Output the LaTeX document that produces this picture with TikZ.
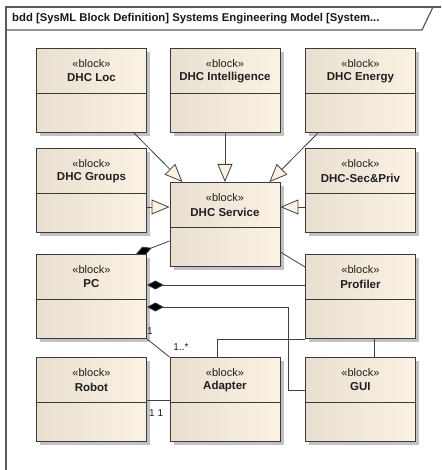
\documentclass[tikz,border=0pt]{standalone}
\usepackage{fontspec}
\setmainfont{Liberation Sans}
\usetikzlibrary{arrows.meta,calc,shadows}

\definecolor{boxleft}{RGB}{232,223,208}
\definecolor{boxright}{RGB}{252,242,227}
\definecolor{edge}{RGB}{58,58,58}
\definecolor{wire}{RGB}{64,64,64}
\definecolor{framegrey}{RGB}{90,90,90}

\tikzset{
  blockbody/.style={draw=edge, line width=0.9pt, left color=boxleft, right color=boxright,
    minimum width=110pt, minimum height=84pt, inner sep=0pt,
    general shadow={fill=black!24, shadow xshift=4pt, shadow yshift=-4pt}},
  blockline/.style={draw=edge, line width=0.9pt},
  stereo/.style={font=\fontsize{11}{12}\selectfont, inner sep=0pt, text=black!88},
  bname/.style={font=\fontsize{11.5}{13}\selectfont\bfseries, inner sep=0pt, text=black!88},
  mult/.style={font=\fontsize{10}{11}\selectfont, inner sep=0pt, text=black!88},
  wireline/.style={draw=wire, line width=0.8pt},
  gen/.style={wireline, -{Triangle[open, length=18pt, width=15pt, fill=boxright, line width=0.8pt]}},
  comp/.style={wireline, {Diamond[length=17pt, width=9pt, fill=black]}-},
  framebox/.style={draw=framegrey, line width=1.2pt},
}

\newcommand{\blockbox}[4]{%
  \node[blockbody, anchor=north west] (#1) at (#2,#3) {};
  \draw[blockline] ($(#1.north west)+(0,45)$) -- ($(#1.north east)+(0,45)$);
  \node[stereo] (#1-st) at ($(#1.north)+(0,16)$) {«block»};
  \node[bname] (#1-nm) at ($(#1.north)+(0,30)$) {#4};
}

\begin{document}
\begin{tikzpicture}[x=1pt, y=-1pt]
  \useasboundingbox[fill=white] (0,0) rectangle (441,470);

  % diagram frame and its name tab
  \coordinate (fr-tl) at (6,7);
  \draw[framebox] (6,470) -- (fr-tl) -- (441,7);
  \draw[framebox] (6,30) -- (422,30) -- (433,7);
  \node[anchor=west, inner sep=0pt, font=\fontsize{11.3}{13}\selectfont\bfseries, text=black!90] (frame-title)
    at (12,18.5) {bdd [SysML Block Definition] Systems Engineering Model [System...};

  % blocks
  \blockbox{loc}{36}{48}{DHC Loc}
  \blockbox{intel}{169.5}{48}{DHC Intelligence}
  \blockbox{energy}{305}{48}{DHC Energy}
  \blockbox{groups}{36}{148}{DHC Groups}
  \blockbox{secpriv}{305}{148}{DHC-Sec\&Priv}
  \blockbox{svc}{169.5}{182}{DHC Service}
  \blockbox{pc}{36}{254}{PC}
  \blockbox{prof}{305}{254}{Profiler}
  \blockbox{robot}{36}{357}{Robot}
  \blockbox{adapter}{169.5}{357}{Adapter}
  \blockbox{gui}{305}{357}{GUI}

  % generalizations into DHC Service
  \draw[gen] ($(loc.south east)+(-13,0)$) -- ($(svc.north west)+(13,0)$);
  \draw[gen] (intel.south) -- (svc.north);
  \draw[gen] ($(energy.south west)+(13,0)$) -- ($(svc.north east)+(-11,0)$);
  \draw[gen] ($(groups.north east)+(0,59)$) -- ($(svc.north west)+(0,25)$);
  \draw[gen] ($(secpriv.north west)+(0,59)$) -- ($(svc.north east)+(0,25)$);

  % compositions owned by PC
  \draw[comp] ($(pc.north east)+(-11,0)$) -- ($(svc.north west)+(0,59)$);
  \draw[comp] ($(pc.north east)+(0,31)$) -- ($(prof.north west)+(0,31)$);
  \draw[comp] ($(pc.north east)+(0,53)$) -| ($(gui.north west)+(-17,33)$) -- ($(gui.north west)+(0,33)$);

  % plain associations
  \draw[wireline] ($(svc.north east)+(0,70)$) -- ($(prof.north west)+(0,13)$);
  \draw[wireline] ($(prof.south west)+(69,0)$) -- ($(gui.north west)+(69,0)$);
  \draw[wireline] ($(adapter.north)+(-7.5,0)$) |- (prof.south west);
  \draw[wireline] (pc.south east) -- (adapter.north west);
  \draw[wireline] ($(robot.north east)+(0,43)$) -- ($(adapter.north west)+(0,43)$);

  % multiplicities
  \node[mult] (m-pc) at (150,331) {1};
  \node[mult] (m-ad) at (181,347) {1..*};
  \node[mult] (m-rb) at (152,413) {1};
  \node[mult] (m-ar) at (160.5,413) {1};
\end{tikzpicture}
\end{document}
